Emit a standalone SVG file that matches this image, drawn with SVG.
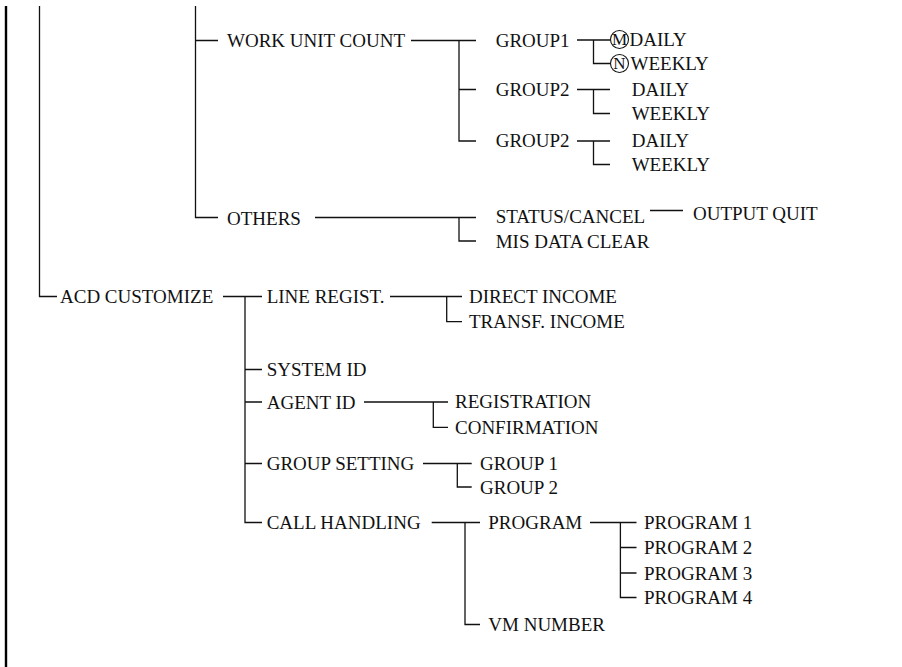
<svg xmlns="http://www.w3.org/2000/svg" width="902" height="667" viewBox="0 0 902 667">
  <defs>
    <style>
      .lbl { font-family: "Liberation Serif", "Times New Roman", serif; font-size: 19px; fill: #111; }
      .mark { font-family: "Liberation Serif", "Times New Roman", serif; font-size: 17px; fill: #111; text-anchor: middle; }
      .ln { fill: none; stroke: #111; stroke-width: 1.3; }
      .thick { fill: none; stroke: #000; stroke-width: 2.4; }
      .ring { fill: none; stroke: #111; stroke-width: 1.1; }
    </style>
  </defs>
  <rect width="902" height="667" fill="#fff"/>

  <!-- tree connectors -->
  <g id="connectors">
    <path class="thick" d="M6 6 V667"/>
    <path class="ln" d="M39.5 6 V296.5 H57"/>
    <path class="ln" d="M195.5 6 V217.5 H218 M195.5 40.5 H218"/>
    <!-- work unit count -->
    <path class="ln" d="M411 40.5 H476 M459 40.5 V141 H476 M459 89.5 H476"/>
    <path class="ln" d="M577 40 H610.5 M593.5 40 V63.5 H610.5"/>
    <path class="ln" d="M577 89.5 H610 M593.5 89.5 V113.5 H610"/>
    <path class="ln" d="M577 141 H610 M593.5 141 V164.5 H610"/>
    <!-- others -->
    <path class="ln" d="M315 217.5 H476 M459 217.5 V241 H476"/>
    <path class="ln" d="M650 210.5 H683"/>
    <!-- acd customize -->
    <path class="ln" d="M223 296.5 H262 M245 296.5 V522.5 H262 M245 369.5 H262 M245 402 H262 M245 463.5 H262"/>
    <path class="ln" d="M390 296.5 H462 M446.7 296.5 V321.7 H462"/>
    <path class="ln" d="M364 402 H448 M433.3 402 V427.3 H448"/>
    <path class="ln" d="M423 463.5 H471.7 M457.3 463.5 V487 H471.7"/>
    <path class="ln" d="M431.7 522.5 H480 M465 522.5 V624.5 H480"/>
    <path class="ln" d="M590 522.5 H636.5 M620.4 522.5 V597.5 H636.5 M620.4 547.5 H636.5 M620.4 573 H636.5"/>
  </g>

  <g id="work-unit-count"><text class="lbl" x="227" y="47">WORK UNIT COUNT</text></g>
  <g id="group1"><text class="lbl" x="495.7" y="46.5">GROUP1</text></g>
  <g id="group1-daily">
    <circle class="ring" cx="619.5" cy="39.5" r="9"/>
    <text class="mark" x="619.5" y="45.3">M</text>
    <text class="lbl" x="629.5" y="46">DAILY</text>
  </g>
  <g id="group1-weekly">
    <circle class="ring" cx="619.5" cy="63.5" r="9"/>
    <text class="mark" x="619.5" y="69.3">N</text>
    <text class="lbl" x="630.5" y="70">WEEKLY</text>
  </g>
  <g id="group2a"><text class="lbl" x="495.7" y="95.8">GROUP2</text></g>
  <g id="group2a-daily"><text class="lbl" x="631.7" y="95.8">DAILY</text></g>
  <g id="group2a-weekly"><text class="lbl" x="631.7" y="120">WEEKLY</text></g>
  <g id="group2b"><text class="lbl" x="495.7" y="147.3">GROUP2</text></g>
  <g id="group2b-daily"><text class="lbl" x="631.7" y="147.3">DAILY</text></g>
  <g id="group2b-weekly"><text class="lbl" x="631.7" y="171">WEEKLY</text></g>

  <g id="others"><text class="lbl" x="227" y="224.5">OTHERS</text></g>
  <g id="status-cancel"><text class="lbl" x="495.7" y="222.7">STATUS/CANCEL</text></g>
  <g id="output-quit"><text class="lbl" x="693" y="220">OUTPUT QUIT</text></g>
  <g id="mis-data-clear"><text class="lbl" x="495.7" y="247.5">MIS DATA CLEAR</text></g>

  <g id="acd-customize"><text class="lbl" x="60" y="303">ACD CUSTOMIZE</text></g>
  <g id="line-regist"><text class="lbl" x="266.7" y="303">LINE REGIST.</text></g>
  <g id="direct-income"><text class="lbl" x="469" y="303">DIRECT INCOME</text></g>
  <g id="transf-income"><text class="lbl" x="469" y="328.2">TRANSF. INCOME</text></g>
  <g id="system-id"><text class="lbl" x="266.7" y="376">SYSTEM ID</text></g>
  <g id="agent-id"><text class="lbl" x="266.7" y="408.5">AGENT ID</text></g>
  <g id="registration"><text class="lbl" x="455" y="408.3">REGISTRATION</text></g>
  <g id="confirmation"><text class="lbl" x="455" y="433.8">CONFIRMATION</text></g>
  <g id="group-setting"><text class="lbl" x="266.7" y="470">GROUP SETTING</text></g>
  <g id="group-1"><text class="lbl" x="480" y="470">GROUP 1</text></g>
  <g id="group-2"><text class="lbl" x="480" y="493.5">GROUP 2</text></g>
  <g id="call-handling"><text class="lbl" x="266.7" y="529">CALL HANDLING</text></g>
  <g id="program"><text class="lbl" x="488.3" y="529">PROGRAM</text></g>
  <g id="program-1"><text class="lbl" x="644" y="529">PROGRAM 1</text></g>
  <g id="program-2"><text class="lbl" x="644" y="554">PROGRAM 2</text></g>
  <g id="program-3"><text class="lbl" x="644" y="579.5">PROGRAM 3</text></g>
  <g id="program-4"><text class="lbl" x="644" y="604">PROGRAM 4</text></g>
  <g id="vm-number"><text class="lbl" x="488.3" y="631">VM NUMBER</text></g>
</svg>
